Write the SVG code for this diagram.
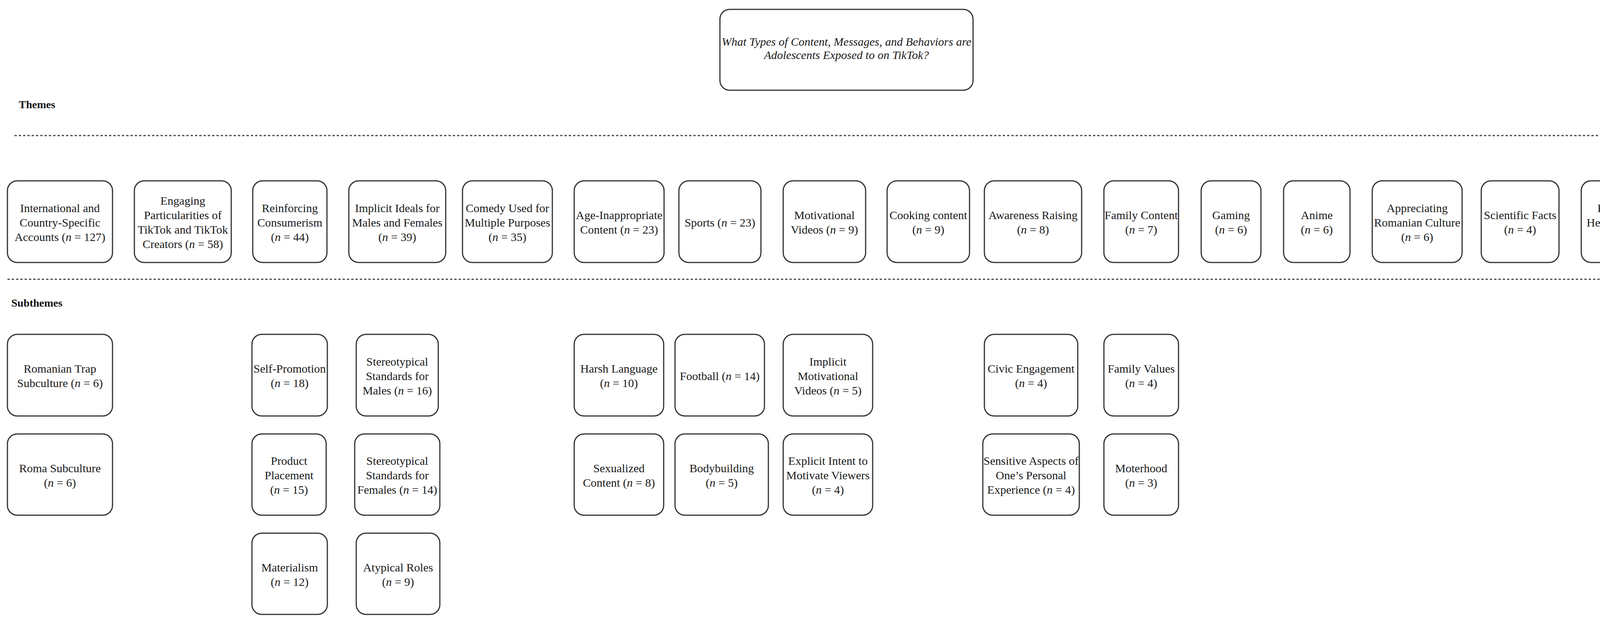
<svg xmlns="http://www.w3.org/2000/svg" width="4348" height="1595" viewBox="0 0 4348 1595">
<style>
.box{fill:#fff;stroke:#333;stroke-width:3}
.t{font-family:"Liberation Serif","Times New Roman",serif;font-size:30px;fill:#1a1a1a;text-anchor:middle}
.i{font-style:italic}
.lbl{font-family:"Liberation Serif","Times New Roman",serif;font-size:28px;font-weight:bold;fill:#111}
.sep{stroke:#444;stroke-width:3;stroke-dasharray:6 5;fill:none}
</style>
<rect x="0" y="0" width="4348" height="1595" fill="#fff"/>

<g id="title">
<rect class="box" x="1843" y="24" width="648" height="207" rx="25"/>
<text class="t i" x="2167" y="117">What Types of Content, Messages, and Behaviors are</text>
<text class="t i" x="2167" y="151">Adolescents Exposed to on TikTok?</text>
</g>

<g id="labels">
<text class="lbl" x="48" y="277">Themes</text>
<text class="lbl" x="29" y="785">Subthemes</text>
</g>

<g id="separators">
<line class="sep" x1="37" y1="347" x2="4325" y2="347"/>
<line class="sep" x1="19" y1="715" x2="4313" y2="715"/>
</g>

<g id="connectors"></g>

<!-- Themes row -->
<g id="theme-international">
<rect class="box" x="19" y="463" width="269" height="209" rx="25"/>
<text class="t" x="153.5" y="542.5">International and</text>
<text class="t" x="153.5" y="579.5">Country-Specific</text>
<text class="t" x="153.5" y="616.5">Accounts (<tspan class="i">n</tspan> = 127)</text>
</g>
<g id="theme-engaging">
<rect class="box" x="344" y="463" width="248" height="209" rx="25"/>
<text class="t" x="468" y="524">Engaging</text>
<text class="t" x="468" y="561">Particularities of</text>
<text class="t" x="468" y="598">TikTok and TikTok</text>
<text class="t" x="468" y="635">Creators (<tspan class="i">n</tspan> = 58)</text>
</g>
<g id="theme-consumerism">
<rect class="box" x="647" y="463" width="190" height="209" rx="25"/>
<text class="t" x="742" y="542.5">Reinforcing</text>
<text class="t" x="742" y="579.5">Consumerism</text>
<text class="t" x="742" y="616.5">(<tspan class="i">n</tspan> = 44)</text>
</g>
<g id="theme-ideals">
<rect class="box" x="893" y="463" width="248" height="209" rx="25"/>
<text class="t" x="1017" y="542.5">Implicit Ideals for</text>
<text class="t" x="1017" y="579.5">Males and Females</text>
<text class="t" x="1017" y="616.5">(<tspan class="i">n</tspan> = 39)</text>
</g>
<g id="theme-comedy">
<rect class="box" x="1184" y="463" width="230" height="209" rx="25"/>
<text class="t" x="1299" y="542.5">Comedy Used for</text>
<text class="t" x="1299" y="579.5">Multiple Purposes</text>
<text class="t" x="1299" y="616.5">(<tspan class="i">n</tspan> = 35)</text>
</g>
<g id="theme-age">
<rect class="box" x="1470" y="463" width="230" height="209" rx="25"/>
<text class="t" x="1585" y="561">Age-Inappropriate</text>
<text class="t" x="1585" y="598">Content (<tspan class="i">n</tspan> = 23)</text>
</g>
<g id="theme-sports">
<rect class="box" x="1738" y="463" width="210" height="209" rx="25"/>
<text class="t" x="1843" y="579.5">Sports (<tspan class="i">n</tspan> = 23)</text>
</g>
<g id="theme-motivational">
<rect class="box" x="2005" y="463" width="211" height="209" rx="25"/>
<text class="t" x="2110.5" y="561">Motivational</text>
<text class="t" x="2110.5" y="598">Videos (<tspan class="i">n</tspan> = 9)</text>
</g>
<g id="theme-cooking">
<rect class="box" x="2271" y="463" width="211" height="209" rx="25"/>
<text class="t" x="2376.5" y="561">Cooking content</text>
<text class="t" x="2376.5" y="598">(<tspan class="i">n</tspan> = 9)</text>
</g>
<g id="theme-awareness">
<rect class="box" x="2520" y="463" width="249" height="209" rx="25"/>
<text class="t" x="2644.5" y="561">Awareness Raising</text>
<text class="t" x="2644.5" y="598">(<tspan class="i">n</tspan> = 8)</text>
</g>
<g id="theme-family">
<rect class="box" x="2826" y="463" width="191" height="209" rx="25"/>
<text class="t" x="2921.5" y="561">Family Content</text>
<text class="t" x="2921.5" y="598">(<tspan class="i">n</tspan> = 7)</text>
</g>
<g id="theme-gaming">
<rect class="box" x="3075" y="463" width="153" height="209" rx="25"/>
<text class="t" x="3151.5" y="561">Gaming</text>
<text class="t" x="3151.5" y="598">(<tspan class="i">n</tspan> = 6)</text>
</g>
<g id="theme-anime">
<rect class="box" x="3286" y="463" width="170" height="209" rx="25"/>
<text class="t" x="3371" y="561">Anime</text>
<text class="t" x="3371" y="598">(<tspan class="i">n</tspan> = 6)</text>
</g>
<g id="theme-romanian-culture">
<rect class="box" x="3513" y="463" width="230" height="209" rx="25"/>
<text class="t" x="3628" y="542.5">Appreciating</text>
<text class="t" x="3628" y="579.5">Romanian Culture</text>
<text class="t" x="3628" y="616.5">(<tspan class="i">n</tspan> = 6)</text>
</g>
<g id="theme-scientific">
<rect class="box" x="3792" y="463" width="199" height="209" rx="25"/>
<text class="t" x="3891.5" y="561">Scientific Facts</text>
<text class="t" x="3891.5" y="598">(<tspan class="i">n</tspan> = 4)</text>
</g>
<g id="theme-healthy">
<rect class="box" x="4048" y="463" width="230" height="209" rx="25"/>
<text class="t" x="4163" y="542.5">Promoting a</text>
<text class="t" x="4163" y="579.5">Healthi Lifestyle</text>
<text class="t" x="4163" y="616.5">(<tspan class="i">n</tspan> = 4)</text>
</g>

<!-- Subthemes row 1 -->
<g id="sub-romanian-trap">
<rect class="box" x="19" y="856" width="269" height="209" rx="25"/>
<text class="t" x="153.5" y="954">Romanian Trap</text>
<text class="t" x="153.5" y="991">Subculture (<tspan class="i">n</tspan> = 6)</text>
</g>
<g id="sub-self-promotion">
<rect class="box" x="645" y="856" width="193" height="209" rx="25"/>
<text class="t" x="741.5" y="954">Self-Promotion</text>
<text class="t" x="741.5" y="991">(<tspan class="i">n</tspan> = 18)</text>
</g>
<g id="sub-males">
<rect class="box" x="912" y="856" width="210" height="209" rx="25"/>
<text class="t" x="1017" y="935.5">Stereotypical</text>
<text class="t" x="1017" y="972.5">Standards for</text>
<text class="t" x="1017" y="1009.5">Males (<tspan class="i">n</tspan> = 16)</text>
</g>
<g id="sub-harsh">
<rect class="box" x="1470" y="856" width="229" height="209" rx="25"/>
<text class="t" x="1584.5" y="954">Harsh Language</text>
<text class="t" x="1584.5" y="991">(<tspan class="i">n</tspan> = 10)</text>
</g>
<g id="sub-football">
<rect class="box" x="1728" y="856" width="229" height="209" rx="25"/>
<text class="t" x="1842.5" y="972.5">Football (<tspan class="i">n</tspan> = 14)</text>
</g>
<g id="sub-implicit-motivational">
<rect class="box" x="2005" y="856" width="229" height="209" rx="25"/>
<text class="t" x="2119.5" y="935.5">Implicit</text>
<text class="t" x="2119.5" y="972.5">Motivational</text>
<text class="t" x="2119.5" y="1009.5">Videos (<tspan class="i">n</tspan> = 5)</text>
</g>
<g id="sub-civic">
<rect class="box" x="2520" y="856" width="239" height="209" rx="25"/>
<text class="t" x="2639.5" y="954">Civic Engagement</text>
<text class="t" x="2639.5" y="991">(<tspan class="i">n</tspan> = 4)</text>
</g>
<g id="sub-family-values">
<rect class="box" x="2826" y="856" width="191" height="209" rx="25"/>
<text class="t" x="2921.5" y="954">Family Values</text>
<text class="t" x="2921.5" y="991">(<tspan class="i">n</tspan> = 4)</text>
</g>

<!-- Subthemes row 2 -->
<g id="sub-roma">
<rect class="box" x="19" y="1111" width="269" height="208" rx="25"/>
<text class="t" x="153.5" y="1208.5">Roma Subculture</text>
<text class="t" x="153.5" y="1245.5">(<tspan class="i">n</tspan> = 6)</text>
</g>
<g id="sub-product">
<rect class="box" x="645" y="1111" width="190" height="208" rx="25"/>
<text class="t" x="740" y="1190">Product</text>
<text class="t" x="740" y="1227">Placement</text>
<text class="t" x="740" y="1264">(<tspan class="i">n</tspan> = 15)</text>
</g>
<g id="sub-females">
<rect class="box" x="908" y="1111" width="218" height="208" rx="25"/>
<text class="t" x="1017" y="1190">Stereotypical</text>
<text class="t" x="1017" y="1227">Standards for</text>
<text class="t" x="1017" y="1264">Females (<tspan class="i">n</tspan> = 14)</text>
</g>
<g id="sub-sexualized">
<rect class="box" x="1470" y="1111" width="229" height="208" rx="25"/>
<text class="t" x="1584.5" y="1208.5">Sexualized</text>
<text class="t" x="1584.5" y="1245.5">Content (<tspan class="i">n</tspan> = 8)</text>
</g>
<g id="sub-bodybuilding">
<rect class="box" x="1728" y="1111" width="239" height="208" rx="25"/>
<text class="t" x="1847.5" y="1208.5">Bodybuilding</text>
<text class="t" x="1847.5" y="1245.5">(<tspan class="i">n</tspan> = 5)</text>
</g>
<g id="sub-explicit">
<rect class="box" x="2005" y="1111" width="229" height="208" rx="25"/>
<text class="t" x="2119.5" y="1190">Explicit Intent to</text>
<text class="t" x="2119.5" y="1227">Motivate Viewers</text>
<text class="t" x="2119.5" y="1264">(<tspan class="i">n</tspan> = 4)</text>
</g>
<g id="sub-sensitive">
<rect class="box" x="2516" y="1111" width="247" height="208" rx="25"/>
<text class="t" x="2639.5" y="1190">Sensitive Aspects of</text>
<text class="t" x="2639.5" y="1227">One’s Personal</text>
<text class="t" x="2639.5" y="1264">Experience (<tspan class="i">n</tspan> = 4)</text>
</g>
<g id="sub-moterhood">
<rect class="box" x="2826" y="1111" width="191" height="208" rx="25"/>
<text class="t" x="2921.5" y="1208.5">Moterhood</text>
<text class="t" x="2921.5" y="1245.5">(<tspan class="i">n</tspan> = 3)</text>
</g>

<!-- Subthemes row 3 -->
<g id="sub-materialism">
<rect class="box" x="645" y="1365" width="193" height="208" rx="25"/>
<text class="t" x="741.5" y="1462.5">Materialism</text>
<text class="t" x="741.5" y="1499.5">(<tspan class="i">n</tspan> = 12)</text>
</g>
<g id="sub-atypical">
<rect class="box" x="912" y="1365" width="214" height="208" rx="25"/>
<text class="t" x="1019" y="1462.5">Atypical Roles</text>
<text class="t" x="1019" y="1499.5">(<tspan class="i">n</tspan> = 9)</text>
</g>
</svg>
